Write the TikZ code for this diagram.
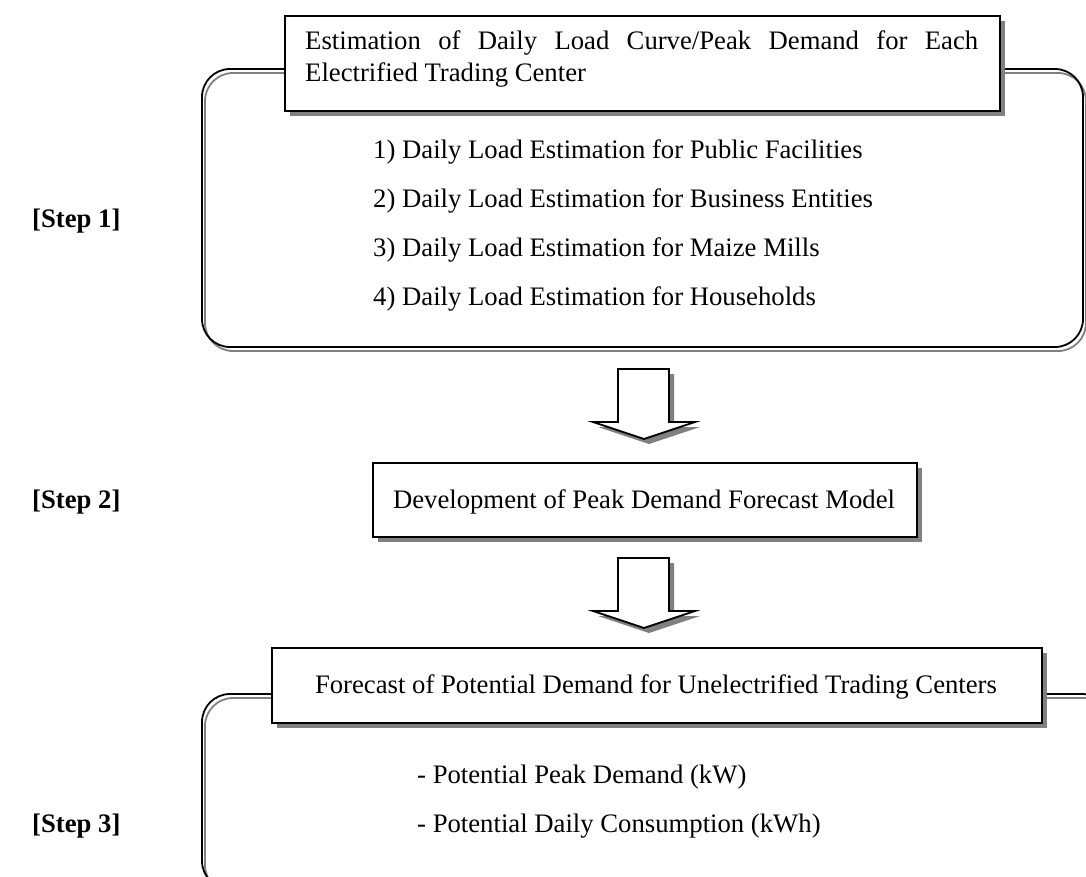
\documentclass[tikz,border=0pt]{standalone}
\usepackage{fontspec}
\setmainfont{Liberation Serif}
\begin{document}
\begin{tikzpicture}[x=1pt,y=-1pt,
  txt/.style={font=\fontsize{26.7}{30.7}\selectfont, inner sep=0pt, anchor=base west},
  steplbl/.style={font=\fontsize{26.7}{30.7}\selectfont\bfseries, inner sep=0pt, anchor=base west},
  blackline/.style={line width=1.8pt, draw=black, rounded corners=28pt},
  grayline/.style={line width=1.8pt, draw=black!50, rounded corners=28pt},
  boxshadow/.style={fill=black!50, draw=none},
  boxframe/.style={fill=white, draw=black, line width=1.8pt},
  arrowshadow/.style={fill=black!50, draw=none},
  arrowbody/.style={fill=white, draw=black, line width=1.8pt, line join=miter}
]
\useasboundingbox (0,0) rectangle (1086,876);
\clip (0,0) rectangle (1086,876);

% ---------- Step 1 frame ----------
\draw[grayline] (205,73) rectangle (1086,351);
\draw[blackline] (202,69) rectangle (1083,347);
\fill[boxshadow] (290,21) rectangle (1005,116);
\node[boxframe, minimum width=715pt, minimum height=95pt, anchor=north west, inner sep=0pt] (t1) at (284,15) {};
\node[inner sep=0pt, anchor=north west, text width=673pt, font=\fontsize{26.7}{32}\selectfont, align=justify] (t1txt) at (305,30)
  {Estimation of Daily Load Curve/Peak Demand for Each\linebreak Electrified Trading Center};

\node[txt] (i1) at (373,158) {1) Daily Load Estimation for Public Facilities};
\node[txt] (i2) at (373,207) {2) Daily Load Estimation for Business Entities};
\node[txt] (i3) at (373,256) {3) Daily Load Estimation for Maize Mills};
\node[txt] (i4) at (373,305) {4) Daily Load Estimation for Households};

\node[steplbl] (s1) at (32,227) {[Step 1]};

% ---------- Arrow 1 ----------
\fill[arrowshadow] (623,374) -- (674,374) -- (674,427) -- (700,427) -- (649,444) -- (598,427) -- (623,427) -- cycle;
\draw[arrowbody] (618,369) -- (669,369) -- (669,422) -- (695,422) -- (644,439) -- (593,422) -- (618,422) -- cycle;

% ---------- Step 2 box ----------
\fill[boxshadow] (378,468) rectangle (922,542);
\node[boxframe, minimum width=544pt, minimum height=74pt, anchor=north west, inner sep=0pt] (b2) at (372,462) {};
\node[txt, anchor=base] (b2txt) at (644,508) {Development of Peak Demand Forecast Model};
\node[steplbl] (s2) at (32,508) {[Step 2]};

% ---------- Arrow 2 ----------
\fill[arrowshadow] (623,563) -- (674,563) -- (674,616) -- (700,616) -- (649,633) -- (598,616) -- (623,616) -- cycle;
\draw[arrowbody] (618,558) -- (669,558) -- (669,611) -- (695,611) -- (644,628) -- (593,611) -- (618,611) -- cycle;

% ---------- Step 3 frame ----------
\draw[grayline] (205,698) rectangle (1113,893);
\draw[blackline] (202,694) rectangle (1110,889);
\fill[boxshadow] (277,653) rectangle (1047,728);
\node[boxframe, minimum width=770pt, minimum height=75pt, anchor=north west, inner sep=0pt] (b3) at (271,647) {};
\node[txt, anchor=base] (b3txt) at (656,693) {Forecast of Potential Demand for Unelectrified Trading Centers};

\node[txt] (j1) at (417,783) {- Potential Peak Demand (kW)};
\node[txt] (j2) at (417,832) {- Potential Daily Consumption (kWh)};
\node[steplbl] (s3) at (32,832) {[Step 3]};
\end{tikzpicture}
\end{document}
